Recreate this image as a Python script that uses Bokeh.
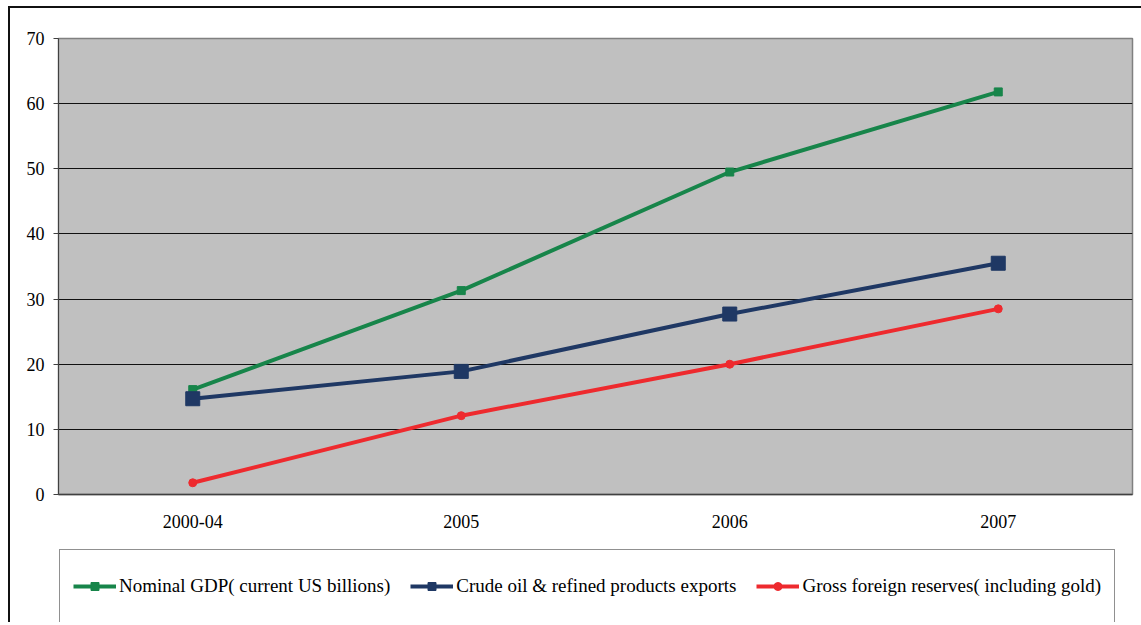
from bokeh.plotting import figure
from bokeh.layouts import column
from bokeh.models import Legend, LegendItem, FactorRange, Range1d, FixedTicker
from bokeh.embed import file_html
from bokeh.resources import INLINE

categories = ["2000-04", "2005", "2006", "2007"]
gdp = [16.1, 31.3, 49.5, 61.8]
crude = [14.7, 18.9, 27.7, 35.5]
reserves = [1.8, 12.1, 20.0, 28.5]
y_ticks = [0, 10, 20, 30, 40, 50, 60, 70]

names = ["Nominal GDP( current US billions)",
         "Crude oil & refined products exports",
         "Gross foreign reserves( including gold)"]

FONT = "Liberation Serif"
GREEN = "#17854A"
NAVY = "#1F3864"
RED = "#EE2A2E"
styles = [(GREEN, "square", 8), (NAVY, "square", 14), (RED, "circle", 8)]
series = [gdp, crude, reserves]

# ---------- main chart ----------
p = figure(width=1131, height=536, output_backend="svg", toolbar_location=None,
           x_range=FactorRange(*categories, range_padding=0),
           y_range=Range1d(0, 70),
           min_border_left=48, min_border_top=30, min_border_right=9, min_border_bottom=50)

p.background_fill_color = "#C0C0C0"
p.border_fill_color = "white"
p.outline_line_color = "#808080"
p.outline_line_width = 1.5

p.xgrid.grid_line_color = None
p.ygrid.grid_line_color = "#111111"
p.ygrid.grid_line_width = 1

p.yaxis.ticker = FixedTicker(ticks=y_ticks)
p.yaxis.minor_tick_line_color = None
p.yaxis.major_tick_out = 5
p.yaxis.major_tick_in = 0
p.yaxis.major_label_standoff = 9
p.yaxis.axis_line_color = "#404040"
p.yaxis.major_tick_line_color = "#404040"

p.xaxis.major_tick_out = 0
p.xaxis.major_tick_in = 0
p.xaxis.major_label_standoff = 20
p.xaxis.axis_line_color = "#404040"
p.xaxis.axis_line_width = 1.5

for ax in (p.xaxis, p.yaxis):
    ax.major_label_text_font = FONT
    ax.major_label_text_font_size = "18px"
    ax.major_label_text_color = "black"

for vals, (col, mk, sz) in zip(series, styles):
    p.line(categories, vals, line_color=col, line_width=4)
    p.scatter(categories, vals, marker=mk, size=sz, color=col)

# ---------- legend strip ----------
q = figure(width=1131, height=78, output_backend="svg", toolbar_location=None,
           x_range=FactorRange(*categories), y_range=Range1d(1000, 1001),
           x_axis_type=None, y_axis_type=None, min_border=0)
q.outline_line_color = None
q.xgrid.grid_line_color = None
q.ygrid.grid_line_color = None
q.background_fill_color = "white"
q.border_fill_color = "white"

items = []
for name, vals, (col, mk, sz) in zip(names, series, styles):
    lr = q.line(categories, vals, line_color=col, line_width=4)
    sr = q.scatter(categories, vals, marker=mk, size=sz, color=col)
    items.append(LegendItem(label=name, renderers=[lr, sr]))

legend = Legend(items=items, orientation="horizontal", location=(1, -1), margin=0,
                padding=13, spacing=20, glyph_width=43, glyph_height=20,
                label_height=46, label_standoff=3,
                label_text_font=FONT, label_text_font_size="19px",
                label_text_color="black",
                border_line_color="#222222", border_line_width=1.5,
                background_fill_color="white", background_fill_alpha=1)
q.add_layout(legend, "center")

lay = column(p, q, spacing=0,
             styles={"margin-left": "8px", "margin-top": "6px",
                     "border-top": "2px solid #111", "border-left": "2px solid #111"})

open("out.html", "w").write(file_html(lay, INLINE))
